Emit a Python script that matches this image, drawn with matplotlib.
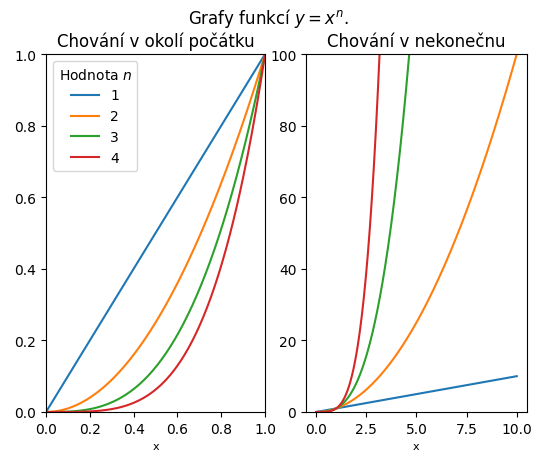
import numpy as np
import matplotlib.pyplot as plt

# Exponents of the plotted power functions y = x^n
exponents = [1, 2, 3, 4]
legend_labels = ["1", "2", "3", "4"]

# x ranges of the two panels
x_near = np.linspace(0, 1, 200)
x_far = np.linspace(0, 10, 400)

fig = plt.figure(figsize=(5.37, 4.52), dpi=100)
ax1 = fig.add_axes([0.0857, 0.0863, 0.408, 0.792])
ax2 = fig.add_axes([0.570, 0.0863, 0.411, 0.792])

for n, lab in zip(exponents, legend_labels):
    ax1.plot(x_near, x_near ** n, label=lab)
    ax2.plot(x_far, x_far ** n, label=lab)

ax1.set_xlim(0, 1)
ax1.set_ylim(0, 1)
ax1.set_title("Chování v okolí počátku")
ax1.set_xlabel("x", fontsize=8)
ax1.legend(title="Hodnota $n$")

ax2.set_ylim(0, 100)
ax2.set_title("Chování v nekonečnu")
ax2.set_xlabel("x", fontsize=8)

fig.suptitle("Grafy funkcí $y = x^n$.", y=0.985)

fig.savefig("out.png", dpi=100)
